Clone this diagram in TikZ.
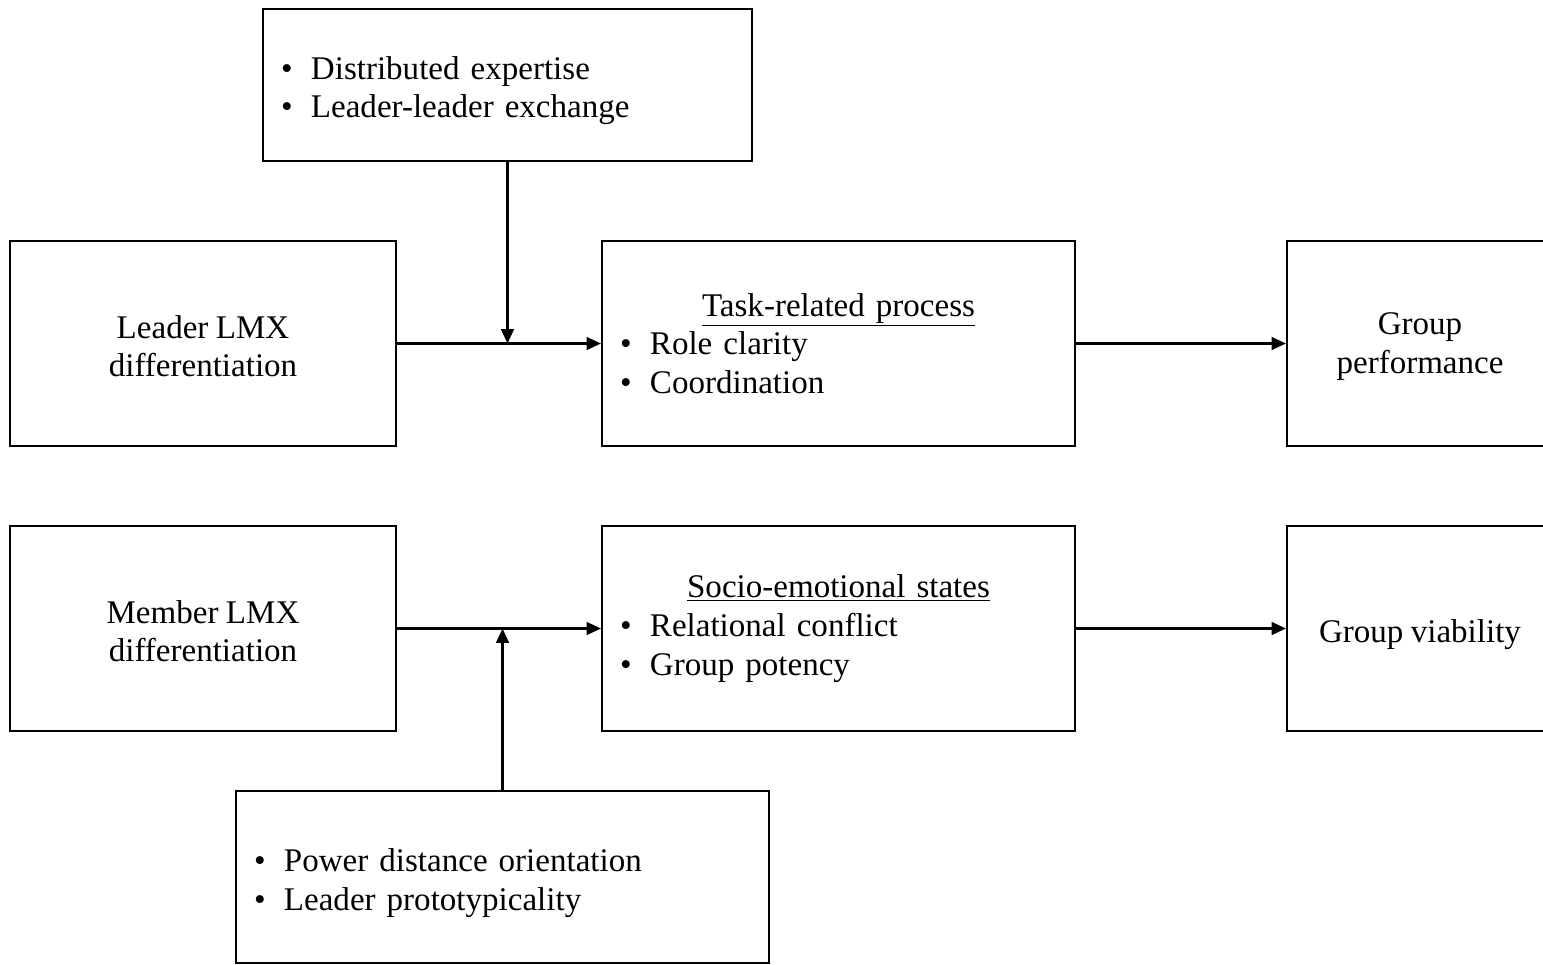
\documentclass[tikz,border=0pt]{standalone}
\usepackage{fontspec}
\setmainfont[WordSpace=0.9]{Liberation Serif}
\usepackage{tikz}
\usetikzlibrary{arrows.meta}

\newcommand{\itemdot}{\makebox[0.75cm][l]{\textbullet}}
\newcommand{\topstrut}[1]{\rule{0pt}{#1}}

\begin{document}
\begin{tikzpicture}[>={Triangle[length=0.36cm,width=0.32cm]},line width=1.5pt,
  box/.style={draw=black,inner xsep=0.45cm,inner ysep=2pt,font=\fontsize{23.5}{27.5}\selectfont},
  listbox/.style={box,align=left},
  varbox/.style={box,align=center,minimum width=#1,minimum height=5.125cm}]
\useasboundingbox (0,0) rectangle (38.575,-24.1);
\node[listbox,text width=11.325cm,minimum height=3.8cm] (mod1) at (12.6875,-2.125) {\topstrut{24.5pt}\itemdot Distributed expertise\\ \itemdot Leader-leader exchange};
\node[varbox=9.65cm] (ldr) at (5.075,-8.5875) {\topstrut{20pt}Leader LMX\\differentiation};
\node[listbox,text width=10.925cm,minimum height=5.125cm] (task) at (20.9625,-8.5875) {\makebox[10.925cm]{\underline{Task-related process}}\\ \itemdot Role clarity\\ \itemdot Coordination};
\node[varbox=6.65cm] (perf) at (35.5,-8.5875) {\topstrut{20pt}Group\\performance};
\node[varbox=9.65cm] (mbr) at (5.075,-15.7125) {\topstrut{20pt}Member LMX\\differentiation};
\node[listbox,text width=10.925cm,minimum height=5.125cm] (socio) at (20.9625,-15.7125) {\makebox[10.925cm]{\underline{Socio-emotional states}}\\ \itemdot Relational conflict\\ \itemdot Group potency};
\node[varbox=6.65cm] (viab) at (35.5,-15.7125) {\topstrut{24.5pt}Group viability};
\node[listbox,text width=12.425cm,minimum height=4.3cm] (mod2) at (12.5625,-21.925) {\topstrut{24.5pt}\itemdot Power distance orientation\\ \itemdot Leader prototypicality};
\coordinate (j1) at (mod1.south |- ldr.east);
\coordinate (j2) at (mod2.north |- mbr.east);
\draw[->] (ldr.east)--(task.west);
\draw[->] (task.east)--(perf.west);
\draw[->] (mod1.south)--(j1);
\draw[->] (mbr.east)--(socio.west);
\draw[->] (socio.east)--(viab.west);
\draw[->] (mod2.north)--(j2);
\end{tikzpicture}
\end{document}
